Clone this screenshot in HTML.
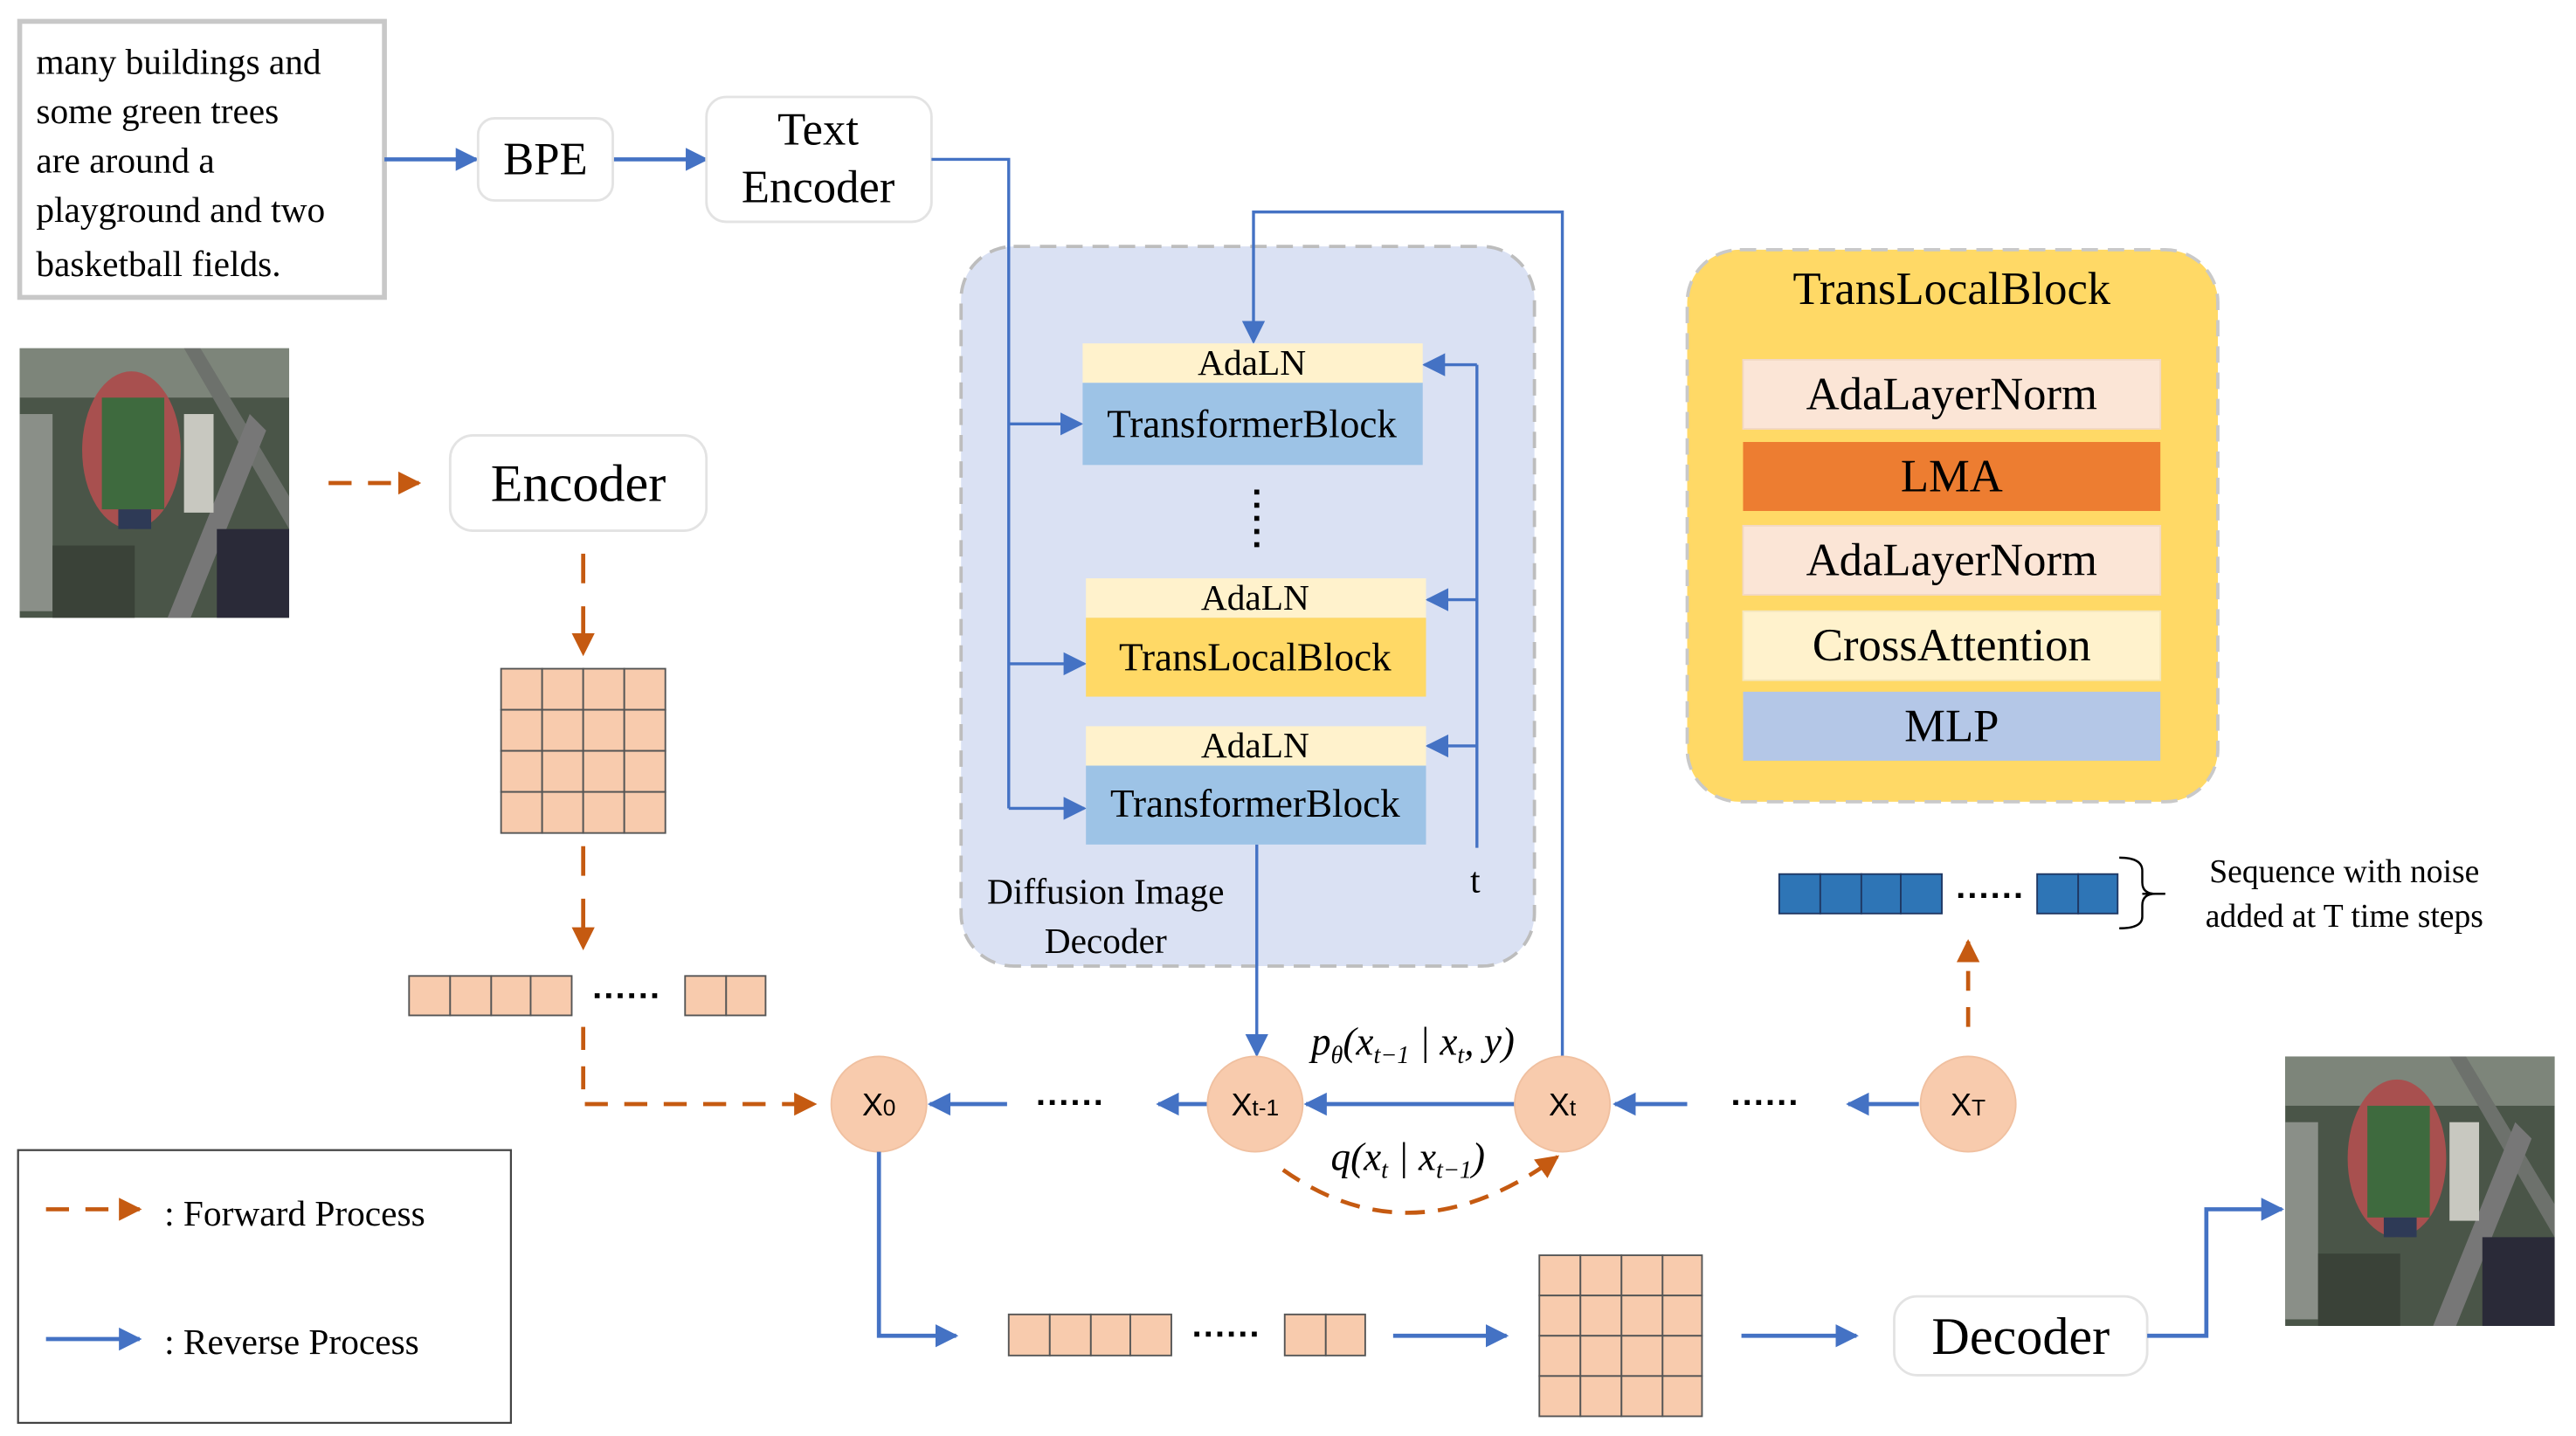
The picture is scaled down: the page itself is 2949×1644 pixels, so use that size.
<!DOCTYPE html>
<html><head><meta charset="utf-8"><style>html,body{margin:0;padding:0;background:#fff}svg{display:block;font-family:"Liberation Serif","Times New Roman","DejaVu Serif",serif}svg text{font-family:"Liberation Serif","Times New Roman","DejaVu Serif",serif}svg text.sans{font-family:"Liberation Sans",sans-serif}</style></head>
<body>
<svg width="2949" height="1644" viewBox="0 0 1568 874" preserveAspectRatio="none" xmlns="http://www.w3.org/2000/svg">
<defs>
<marker id="bb" viewBox="0 0 10 10" markerWidth="14" markerHeight="16" refX="9" refY="5" orient="auto" markerUnits="userSpaceOnUse"><path d="M0,0 L10,5 L0,10 Z" fill="#4472c4"/></marker>
<marker id="o" viewBox="0 0 10 10" markerWidth="14" markerHeight="16" refX="9" refY="5" orient="auto" markerUnits="userSpaceOnUse"><path d="M0,0 L10,5 L0,10 Z" fill="#c55a11"/></marker>
<g id="img">
<rect width="164" height="164" fill="#4a5548"/>
<rect x="0" y="0" width="164" height="30" fill="#7d857a"/>
<rect x="0" y="40" width="20" height="120" fill="#8a8f88"/>
<path d="M110,0 L164,90 L164,110 L100,0Z" fill="#6d716c"/>
<path d="M140,40 L90,164 L104,164 L150,50Z" fill="#777"/>
<ellipse cx="68" cy="62" rx="30" ry="48" fill="#a8504f"/>
<rect x="50" y="30" width="38" height="68" fill="#3e6a3e"/>
<rect x="60" y="98" width="20" height="12" fill="#2e3a56"/>
<rect x="100" y="40" width="18" height="60" fill="#c8c8c0"/>
<rect x="120" y="110" width="44" height="54" fill="#2a2a38"/>
<rect x="20" y="120" width="50" height="44" fill="#3a4238"/>
</g>
</defs>

<rect x="12" y="13" width="222" height="168" fill="#fff" stroke="#c8c8c8" stroke-width="3"/>
<g font-size="22" fill="#000">
<text x="22" y="45">many buildings and</text>
<text x="22" y="75">some green trees</text>
<text x="22" y="105">are around a</text>
<text x="22" y="135">playground and two</text>
<text x="22" y="168">basketball fields.</text>
</g>
<g stroke="#4472c4" stroke-width="2.5" fill="none">
<line x1="234" y1="97" x2="290" y2="97" marker-end="url(#bb)"/>
<line x1="373" y1="97" x2="430" y2="97" marker-end="url(#bb)"/>
</g>
<rect x="291" y="72" width="82" height="50" rx="10" fill="#fff" stroke="#e3e3e3" stroke-width="1.5"/>
<text x="332" y="106" font-size="28" text-anchor="middle">BPE</text>
<rect x="430" y="59" width="137" height="76" rx="12" fill="#fff" stroke="#e3e3e3" stroke-width="1.5"/>
<text x="498" y="88" font-size="28" text-anchor="middle">Text</text>
<text x="498" y="123" font-size="28" text-anchor="middle">Encoder</text>

<rect x="585" y="150" width="349" height="438" rx="32" fill="#dae1f3" stroke="#bdbdbd" stroke-width="2" stroke-dasharray="10,6"/>
<g stroke="#4472c4" stroke-width="1.8" fill="none">
<polyline points="567,97 614,97 614,492"/>
<line x1="614" y1="258" x2="658" y2="258" marker-end="url(#bb)"/>
<line x1="614" y1="404" x2="660" y2="404" marker-end="url(#bb)"/>
<line x1="614" y1="492" x2="660" y2="492" marker-end="url(#bb)"/>
<polyline points="899,516 899,222"/>
<line x1="899" y1="222" x2="867" y2="222" marker-end="url(#bb)"/>
<line x1="899" y1="365" x2="869" y2="365" marker-end="url(#bb)"/>
<line x1="899" y1="454" x2="869" y2="454" marker-end="url(#bb)"/>
<polyline points="951,643 951,129 763,129 763,208" marker-end="url(#bb)"/>
<line x1="765" y1="514" x2="765" y2="642" marker-end="url(#bb)"/>
</g>
<rect x="659" y="209" width="207" height="24" fill="#fff2cc"/>
<rect x="659" y="233" width="207" height="50" fill="#9dc3e6"/>
<text x="762" y="228" font-size="22" text-anchor="middle">AdaLN</text>
<text x="762" y="266" font-size="24" text-anchor="middle">TransformerBlock</text>
<line x1="765" y1="298" x2="765" y2="338" stroke="#000" stroke-width="3" stroke-dasharray="3,5"/>
<rect x="661" y="352" width="207" height="24" fill="#fff2cc"/>
<rect x="661" y="376" width="207" height="48" fill="#ffd966"/>
<text x="764" y="371" font-size="22" text-anchor="middle">AdaLN</text>
<text x="764" y="408" font-size="24" text-anchor="middle">TransLocalBlock</text>
<rect x="661" y="442" width="207" height="24" fill="#fff2cc"/>
<rect x="661" y="466" width="207" height="48" fill="#9dc3e6"/>
<text x="764" y="461" font-size="22" text-anchor="middle">AdaLN</text>
<text x="764" y="497" font-size="24" text-anchor="middle">TransformerBlock</text>
<text x="898" y="543" font-size="22" text-anchor="middle">t</text>
<text x="673" y="550" font-size="22" text-anchor="middle">Diffusion Image</text>
<text x="673" y="580" font-size="22" text-anchor="middle">Decoder</text>

<rect x="1027" y="152" width="323" height="336" rx="32" fill="#ffd966" stroke="#c9c9c9" stroke-width="2" stroke-dasharray="10,6"/>
<text x="1188" y="185" font-size="28" text-anchor="middle">TransLocalBlock</text>
<rect x="1061" y="219" width="254" height="42" fill="#fbe5d6" stroke="#f2d8c4"/>
<rect x="1061" y="269" width="254" height="42" fill="#ed7d31"/>
<rect x="1061" y="320" width="254" height="42" fill="#fbe5d6" stroke="#f2d8c4"/>
<rect x="1061" y="372" width="254" height="42" fill="#fff2cc" stroke="#f4e6bc"/>
<rect x="1061" y="421" width="254" height="42" fill="#b4c7e7"/>
<g font-size="28" text-anchor="middle">
<text x="1188" y="249">AdaLayerNorm</text>
<text x="1188" y="299">LMA</text>
<text x="1188" y="350">AdaLayerNorm</text>
<text x="1188" y="402">CrossAttention</text>
<text x="1188" y="451">MLP</text>
</g>

<g fill="#2e75b6" stroke="#1f3864" stroke-width="1">
<rect x="1083" y="532" width="25" height="24"/><rect x="1108" y="532" width="25" height="24"/><rect x="1133" y="532" width="24" height="24"/><rect x="1157" y="532" width="25" height="24"/>
<rect x="1240" y="532" width="25" height="24"/><rect x="1265" y="532" width="24" height="24"/>
</g>
<line x1="1192" y1="545" x2="1232" y2="545" stroke="#000" stroke-width="3" stroke-dasharray="3,4"/>
<path d="M1290,522 Q1304,522 1304,530 L1304,537 Q1304,544 1312,544 Q1304,544 1304,551 L1304,558 Q1304,565 1290,565" fill="none" stroke="#000" stroke-width="1.3"/>
<line x1="1304" y1="544" x2="1318" y2="544" stroke="#000" stroke-width="1.3"/>
<text x="1427" y="537" font-size="20" text-anchor="middle">Sequence with noise</text>
<text x="1427" y="564" font-size="20" text-anchor="middle">added at T time steps</text>
<line x1="1198" y1="625" x2="1198" y2="573" stroke="#c55a11" stroke-width="2.5" stroke-dasharray="12,10" marker-end="url(#o)"/>

<use href="#img" x="12" y="212"/>
<line x1="200" y1="294" x2="255" y2="294" stroke="#c55a11" stroke-width="2.5" stroke-dasharray="14,10" marker-end="url(#o)"/>
<rect x="274" y="265" width="156" height="58" rx="14" fill="#fff" stroke="#e3e3e3" stroke-width="1.5"/>
<text x="352" y="305" font-size="32" text-anchor="middle">Encoder</text>
<line x1="355" y1="337" x2="355" y2="398" stroke="#c55a11" stroke-width="2.5" stroke-dasharray="18,14" marker-end="url(#o)"/>
<g fill="#f8cbad" stroke="#555" stroke-width="1">
<rect x="305" y="407" width="25" height="25"/><rect x="330" y="407" width="25" height="25"/><rect x="355" y="407" width="25" height="25"/><rect x="380" y="407" width="25" height="25"/>
<rect x="305" y="432" width="25" height="25"/><rect x="330" y="432" width="25" height="25"/><rect x="355" y="432" width="25" height="25"/><rect x="380" y="432" width="25" height="25"/>
<rect x="305" y="457" width="25" height="25"/><rect x="330" y="457" width="25" height="25"/><rect x="355" y="457" width="25" height="25"/><rect x="380" y="457" width="25" height="25"/>
<rect x="305" y="482" width="25" height="25"/><rect x="330" y="482" width="25" height="25"/><rect x="355" y="482" width="25" height="25"/><rect x="380" y="482" width="25" height="25"/>
</g>
<line x1="355" y1="515" x2="355" y2="577" stroke="#c55a11" stroke-width="2.5" stroke-dasharray="18,14" marker-end="url(#o)"/>
<g fill="#f8cbad" stroke="#555" stroke-width="1">
<rect x="249" y="594" width="25" height="24"/><rect x="274" y="594" width="25" height="24"/><rect x="299" y="594" width="24" height="24"/><rect x="323" y="594" width="25" height="24"/>
<rect x="417" y="594" width="25" height="24"/><rect x="442" y="594" width="24" height="24"/>
</g>
<line x1="362" y1="606" x2="402" y2="606" stroke="#000" stroke-width="3" stroke-dasharray="3,4"/>
<polyline points="355,625 355,672 496,672" fill="none" stroke="#c55a11" stroke-width="2.5" stroke-dasharray="14,10" marker-end="url(#o)"/>

<g stroke="#4472c4" stroke-width="2.5" fill="none">
<line x1="613" y1="672" x2="566" y2="672" marker-end="url(#bb)"/>
<line x1="735" y1="672" x2="705" y2="672" marker-end="url(#bb)"/>
<line x1="922" y1="672" x2="795" y2="672" marker-end="url(#bb)"/>
<line x1="1027" y1="672" x2="983" y2="672" marker-end="url(#bb)"/>
<line x1="1168" y1="672" x2="1125" y2="672" marker-end="url(#bb)"/>
</g>
<line x1="632" y1="671" x2="672" y2="671" stroke="#000" stroke-width="3" stroke-dasharray="3,4"/>
<line x1="1055" y1="671" x2="1095" y2="671" stroke="#000" stroke-width="3" stroke-dasharray="3,4"/>
<g fill="#f8cbad" stroke="#f0c0a0">
<circle cx="535" cy="672" r="29"/><circle cx="764" cy="672" r="29"/><circle cx="951" cy="672" r="29"/><circle cx="1198" cy="672" r="29"/>
</g>
<g font-size="19" text-anchor="middle">
<text class="sans" x="535" y="679">X<tspan font-size="14">0</tspan></text>
<text class="sans" x="764" y="679">X<tspan font-size="14">t-1</tspan></text>
<text class="sans" x="951" y="679">X<tspan font-size="14">t</tspan></text>
<text class="sans" x="1198" y="679">X<tspan font-size="14">T</tspan></text>
</g>
<text x="860" y="642" font-size="24" font-style="italic" text-anchor="middle">p<tspan font-size="15" dy="5">θ</tspan><tspan dy="-5">(x</tspan><tspan font-size="15" dy="5">t−1</tspan><tspan dy="-5"> | x</tspan><tspan font-size="15" dy="5">t</tspan><tspan dy="-5">, y)</tspan></text>
<text x="857" y="712" font-size="24" font-style="italic" text-anchor="middle">q(x<tspan font-size="15" dy="5">t</tspan><tspan dy="-5"> | x</tspan><tspan font-size="15" dy="5">t−1</tspan><tspan dy="-5">)</tspan></text>
<path d="M781,712 Q860,768 948,704" fill="none" stroke="#c55a11" stroke-width="2.5" stroke-dasharray="12,8" marker-end="url(#o)"/>

<polyline points="535,701 535,813 582,813" fill="none" stroke="#4472c4" stroke-width="2.5" marker-end="url(#bb)"/>
<g fill="#f8cbad" stroke="#555" stroke-width="1">
<rect x="614" y="800" width="25" height="25"/><rect x="639" y="800" width="25" height="25"/><rect x="664" y="800" width="24" height="25"/><rect x="688" y="800" width="25" height="25"/>
<rect x="782" y="800" width="25" height="25"/><rect x="807" y="800" width="24" height="25"/>
</g>
<line x1="727" y1="812" x2="767" y2="812" stroke="#000" stroke-width="3" stroke-dasharray="3,4"/>
<line x1="848" y1="813" x2="917" y2="813" stroke="#4472c4" stroke-width="2.5" marker-end="url(#bb)"/>
<g fill="#f8cbad" stroke="#555" stroke-width="1">
<rect x="937" y="764" width="25" height="24.5"/><rect x="962" y="764" width="25" height="24.5"/><rect x="987" y="764" width="25" height="24.5"/><rect x="1012" y="764" width="24" height="24.5"/>
<rect x="937" y="788.5" width="25" height="24.5"/><rect x="962" y="788.5" width="25" height="24.5"/><rect x="987" y="788.5" width="25" height="24.5"/><rect x="1012" y="788.5" width="24" height="24.5"/>
<rect x="937" y="813" width="25" height="24.5"/><rect x="962" y="813" width="25" height="24.5"/><rect x="987" y="813" width="25" height="24.5"/><rect x="1012" y="813" width="24" height="24.5"/>
<rect x="937" y="837.5" width="25" height="24.5"/><rect x="962" y="837.5" width="25" height="24.5"/><rect x="987" y="837.5" width="25" height="24.5"/><rect x="1012" y="837.5" width="24" height="24.5"/>
</g>
<line x1="1060" y1="813" x2="1130" y2="813" stroke="#4472c4" stroke-width="2.5" marker-end="url(#bb)"/>
<rect x="1153" y="789" width="154" height="48" rx="14" fill="#fff" stroke="#e3e3e3" stroke-width="1.5"/>
<text x="1230" y="824" font-size="32" text-anchor="middle">Decoder</text>
<polyline points="1307,813 1343,813 1343,736 1389,736" fill="none" stroke="#4472c4" stroke-width="2.5" marker-end="url(#bb)"/>
<use href="#img" x="1391" y="643"/>

<rect x="11" y="700" width="300" height="166" fill="#fff" stroke="#444" stroke-width="1.2"/>
<line x1="28" y1="736" x2="85" y2="736" stroke="#c55a11" stroke-width="2.5" stroke-dasharray="14,10" marker-end="url(#o)"/>
<text x="100" y="746" font-size="22">: Forward Process</text>
<line x1="28" y1="815" x2="85" y2="815" stroke="#4472c4" stroke-width="2.5" marker-end="url(#bb)"/>
<text x="100" y="824" font-size="22">: Reverse Process</text>
</svg>
</body></html>
